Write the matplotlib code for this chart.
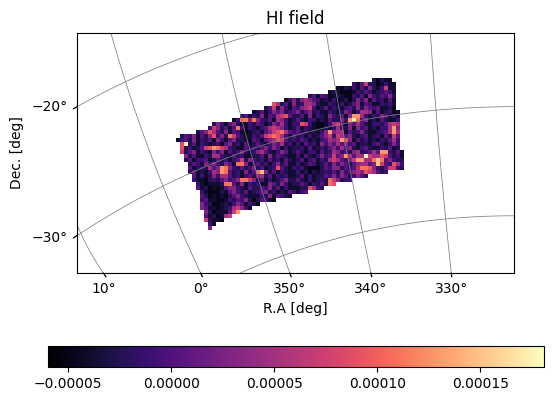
import matplotlib
matplotlib.use("Agg")
import matplotlib.pyplot as plt
import numpy as np

W, H = 553, 400

# map cells, one string per row, groups of 10 columns
# '.' is no data, the characters are brightness steps (see step_values)
rows = [
    ".......... .......... .......... .......... .........2 0211....",
    ".......... .......... .......... .......... ....314722 01311...",
    ".......... .......... .......... .......... 1021314252 13711...",
    ".......... .......... .......... ........12 1000132431 23431...",
    ".......... .......... .......... ...2414301 2100324153 24352...",
    ".......... .......... .......135 2565431213 0120253514 23141...",
    ".......... .......... ....862415 2366521132 1312451431 13231...",
    ".......... .......... ..24725314 3567312413 2134252543 41120...",
    ".......... .........1 2413545234 5245231132 1254136651 412301..",
    ".......... ......2413 2514367842 2415132153 2415aa6313 254131..",
    ".......... ....139959 5324165312 4213312142 253ac94512 142113..",
    ".........2 5314521132 4312546313 3873100136 7315464213 324676..",
    "........37 5241493132 1346765312 4132100213 6325153412 1336a5..",
    ".....24586 4251431012 3145789643 42312135a5 6614235211 2346a6..",
    ".243514258 3529742113 2478986314 2313124573 7645213412 314274..",
    "1342513241 5314522114 3145687423 2431213465 6a85142312 132463..",
    ".8c2413212 3145231412 4213546231 3142315354 6453412213 421353..",
    ".82312478a 9763211423 2453541312 2314123245 3645213421 132412..",
    ".724513215 3514235213 5642135412 4213314236 5342562346 4aa3241.",
    "..52411326 6321423112 2415243211 3142135347 45a6466c76 6874231.",
    "..24133412 4231347253 2314231421 2413413267 64357aa669 b945322.",
    "...2431535 3254199513 4231352411 3124312425 3542456645 b743863.",
    "...4123264 5a95324235 2412384213 2310002435 5243469985 3247732.",
    "...2412136 5a94231524 9b52413211 3120212324 2534565876 423.....",
    "....413125 3664231342 5624132311 2413122435 35423542.. ........",
    "....311023 2453459975 2413124522 4213123297 5233...... ........",
    ".....31011 1299425132 3115425312 2431324298 .......... ........",
    ".....41201 0145532142 2435241311 1228632... .......... ........",
    "......3100 0214532412 3452312143 134....... .......... ........",
    "......4201 0102453211 132514321. .......... .......... ........",
    "......3411 0013243520 24310..... .......... .......... ........",
    "......5320 0121354132 0......... .......... .......... ........",
    "......5411 012367531. .......... .......... .......... ........",
    ".......520 11147a.... .......... .......... .......... ........",
    ".......412 0167...... .......... .......... .......... ........",
    ".......721 10........ .......... .......... .......... ........",
    "........31 .......... .......... .......... .......... ........",
    "........5. .......... .......... .......... .......... ........",
]
step_chars = "0123456789abc"
step_values = [-4.8, -3.8, -2.5, -1.0, 0.5, 3.0, 5.0, 7.0, 9.0, 11.0, 13.0, 15.0, 17.5]  # 1e-5

# graticule, points in image pixels (x, y)
ra_10 = [(77.3, 225), (80.7, 233), (103.3, 273)]
ra_0 = [(110.7, 32.7), (125.7, 81.7), (141.7, 130), (163, 185.7), (190, 251), (201, 273)]
ra_350 = [(222, 32.7), (229.3, 70), (245, 130), (250, 150), (265, 200), (277.3, 239), (290, 273)]
ra_340 = [(326, 32.7), (332.7, 70), (342, 124), (348, 160), (354, 190), (371, 273)]
ra_330 = [(430.3, 32.7), (436, 110), (445.7, 219.3), (451.3, 273)]
dec_20 = [(77, 106.7), (125.7, 81.7), (210, 48), (262, 32.7)]
dec_30 = [(77, 235.7), (163, 185.7), (189, 174), (223, 159), (250, 150), (290, 137), (342, 124), (410, 113), (436, 110), (514.5, 106.7)]
dec_40 = [(240, 273), (300, 250), (380, 228), (445.7, 219.3), (514.5, 215.7)]

ra_ticks = [103.3, 201, 290, 371, 451.3]
ra_labels = ["10°", "0°", "350°", "340°", "330°"]
dec_ticks = [105, 236]
dec_labels = ["\u221220°", "\u221230°"]

x0, x1, y0, y1 = 77.0, 514.0, 32.5, 273.2
cell_x0, cell_y0, cell = 176.0, 78.0, 4.0

fig = plt.figure(figsize=(W / 100, H / 100), dpi=100)
ax = fig.add_axes([x0 / W, 1 - y1 / H, (x1 - x0) / W, (y1 - y0) / H])

table = [r.replace(" ", "").ljust(58, ".") for r in rows]
lookup = dict(zip(step_chars, step_values))
field = np.array([[lookup.get(c, np.nan) for c in r] for r in table]) * 1e-5
ny, nx = field.shape

cmap = plt.get_cmap("magma").copy()
cmap.set_bad((1, 1, 1, 0))
im = ax.imshow(np.ma.masked_invalid(field), cmap=cmap, vmin=-5.98e-5, vmax=18.09e-5,
               extent=[cell_x0, cell_x0 + nx * cell, cell_y0 + ny * cell, cell_y0],
               interpolation="nearest", aspect="auto", zorder=1)

# grid lines, smoothed through the read points
grid_kw = dict(color="gray", lw=0.55, zorder=2)
for pts in [ra_10, ra_0, ra_350, ra_340, ra_330]:
    p = np.array(pts)
    fit = np.polyfit(p[:, 1], p[:, 0], 2)
    yy = np.linspace(p[0, 1], p[-1, 1], 100)
    ax.plot(np.polyval(fit, yy), yy, **grid_kw)
    # little tick at the bottom edge, same direction as the line
    yt = np.array([y1, y1 + 3.5])
    ax.plot(np.polyval(fit, yt), yt, color="k", lw=0.9, clip_on=False, zorder=3)
for pts in [dec_20, dec_30, dec_40]:
    p = np.array(pts)
    fit = np.polyfit(p[:, 0], p[:, 1], 3)
    xx = np.linspace(p[0, 0], p[-1, 0], 100)
    ax.plot(xx, np.polyval(fit, xx), **grid_kw)
    if p[0, 0] <= x0:
        xt = np.array([x0, x0 - 3.5])
        ax.plot(xt, np.polyval(fit, xt), color="k", lw=0.9, clip_on=False, zorder=3)

ax.set_xlim(x0, x1)
ax.set_ylim(y1, y0)
ax.set_xticks(ra_ticks)
ax.set_xticklabels(ra_labels)
ax.set_yticks(dec_ticks)
ax.set_yticklabels(dec_labels)
ax.tick_params(length=0, pad=6.5)
ax.set_xlabel("R.A [deg]", labelpad=4.5)
ax.set_ylabel("Dec. [deg]", labelpad=5.5)
ax.set_title("HI field", fontsize=12, pad=6)

cax = fig.add_axes([48 / W, 1 - 367 / H, (544 - 48) / W, 21 / H])
cb = fig.colorbar(im, cax=cax, orientation="horizontal")
cb.set_ticks([-0.00005, 0.0, 0.00005, 0.0001, 0.00015])
cb.set_ticklabels(["\u22120.00005", "0.00000", "0.00005", "0.00010", "0.00015"])

fig.savefig("out.png", dpi=100)
